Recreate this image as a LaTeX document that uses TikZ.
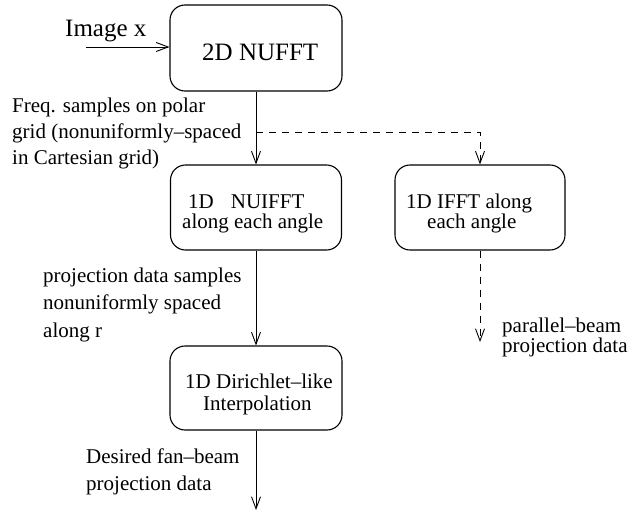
\documentclass[tikz,border=0pt]{standalone}
\usepackage{fontspec}
\setmainfont{Liberation Serif}
\usetikzlibrary{arrows.meta}

\tikzset{
  stage/.style={draw, line width=1.1pt, rounded corners=15pt, inner sep=0pt},
  big/.style={anchor=base west, inner sep=0pt, font=\fontsize{25}{30}\selectfont},
  txt/.style={anchor=base west, inner sep=0pt, font=\fontsize{21}{26}\selectfont},
  flow/.style={line width=0.9pt, -{Straight Barb[length=12pt,width=9pt,line width=0.9pt]}},
  alt/.style={flow, dash pattern=on 7pt off 6pt},
}

\begin{document}
\begin{tikzpicture}[x=1pt, y=-1pt]
\useasboundingbox (0,0) rectangle (632,511);

% processing stages
\node[stage, minimum width=172pt, minimum height=86pt] (nufft) at (256,48) {};
\node[stage, minimum width=171pt, minimum height=85pt] (nuifft) at (256,207.5) {};
\node[stage, minimum width=170pt, minimum height=85pt] (ifft) at (480,207.5) {};
\node[stage, minimum width=172pt, minimum height=84pt] (interp) at (256,388) {};

% stage captions
\node[big] (tA) at (202,60) {2D NUFFT};
\node[txt] (tB1) at (188,208) {1D\hspace{17pt}NUIFFT};
\node[txt] (tB2) at (182,228) {along each angle};
\node[txt] (tC1) at (406,208) {1D IFFT along};
\node[txt] (tC2) at (427,228) {each angle};
\node[txt] (tD1) at (185,388) {1D Dirichlet–like};
\node[txt] (tD2) at (203,410) {Interpolation};

% input
\node[big] (inlab) at (65,37) {Image x};
\coordinate (instart) at (86,47);
\draw[flow] (instart) -- (instart -| nufft.west);

% main chain
\draw[flow] (nufft.south) -- (nuifft.north);
\draw[flow] (nuifft.south) -- (interp.north);
\coordinate (fanout) at (256,510);
\draw[flow] (interp.south) -- (fanout);

% parallel-beam branch
\coordinate (split) at (256,132);
\draw[alt] (split) -- (split -| ifft.north) -- (ifft.north);
\coordinate (parout) at (480,342);
\draw[alt] (ifft.south) -- (parout);

% edge labels
\node[txt] (l1a) at (12,113) {Freq. samples on polar};
\node[txt] (l1b) at (12,138.5) {grid (nonuniformly–spaced};
\node[txt] (l1c) at (12,164) {in Cartesian grid)};

\node[txt] (l2a) at (43,282) {projection data samples};
\node[txt] (l2b) at (43,309.5) {nonuniformly spaced};
\node[txt] (l2c) at (43,337) {along r};

\node[txt] (l3a) at (86,463) {Desired fan–beam};
\node[txt] (l3b) at (86,490) {projection data};

\node[txt] (l4a) at (502,332) {parallel–beam};
\node[txt] (l4b) at (502,352) {projection data};
\end{tikzpicture}
\end{document}
